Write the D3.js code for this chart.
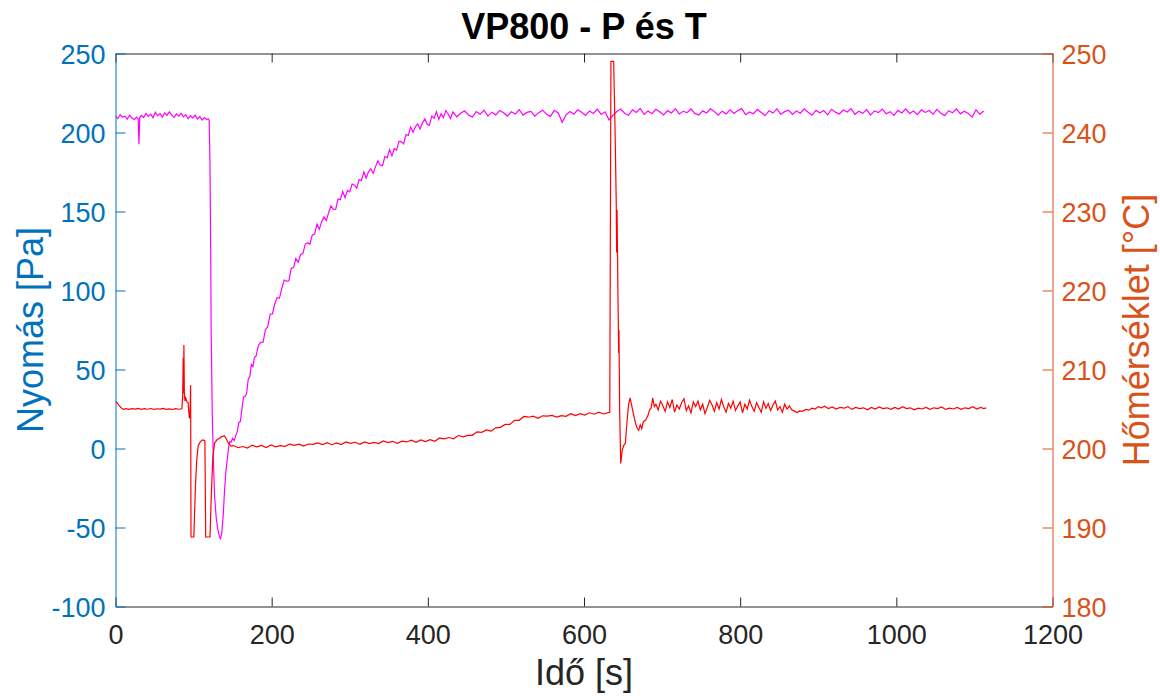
<!DOCTYPE html>
<html>
<head>
<meta charset="utf-8">
<script src="https://cdn.jsdelivr.net/npm/d3@7"></script>
<style>
  body { margin: 0; background: #fff; }
  svg { font-family: "Liberation Sans", Arial, sans-serif; }
</style>
</head>
<body>
<div id="chart"></div>
<script>
// Axis ticks
var xTicks = [0, 200, 400, 600, 800, 1000, 1200];
var pTicks = [-100, -50, 0, 50, 100, 150, 200, 250];
var tTicks = [180, 190, 200, 210, 220, 230, 240, 250];

// Pressure [s, Pa]
var pressureData = [
  [0,210.5],[3,208.8],[6,211.2],[9,209.6],[12,210.3],[15,208.4],[18,210.9],[21,209.1],[24,208.2],[27,209.7],
  [29,208.6],[30,192.5],[31,209.3],[33,210.8],[36,209.5],[39,212.1],[42,210.2],[45,211.6],[48,209.4],[51,212.8],
  [54,210.7],[57,211.9],[60,209.8],[63,212.4],[66,210.9],[69,213.1],[72,211.0],[75,209.6],[78,211.8],[81,210.4],
  [84,212.2],[87,209.9],[90,211.3],[93,208.7],[96,210.6],[99,209.2],[102,211.0],[105,208.5],[108,210.1],[111,207.9],
  [114,209.4],[117,208.2],[119,208.6],
  [120,207.5],[121,180],[122,120],[122.5,75],[124,20],[125.5,-10],[127,-31],[129,-44],[131,-51],[133,-55.5],
  [134.5,-57],[136,-54],[138,-42],[139.6,-27],[141.5,-14],[143.4,-5.7],[145,1],[146.5,4.5],[148,4],[150,6.5],
  [152,5],[154,8],[156,11],
  [158,16.5],[160,17.2],[162,25.4],[164,32.6],[166,32.9],[168,35],[170,43.9],[172,45.5],[174,53.2],[176,51.8],
  [178,57.8],[180,58.4],[183,65.4],[186,67.2],[189,67.3],[192,75.2],[195,77.1],[198,85],[201,85.2],[204,91.6],
  [207,95.5],[210,95.2],[213,101.4],[216,106.6],[219,105.9],[222,106],[225,113.9],[228,114.5],[231,120.2],[234,117.8],
  [237,122.8],[240,123.4],[243,129.4],[246,130.2],[249,129.3],[252,135.2],[255,135.6],[258,142],[261,138.7],[264,143.6],
  [267,146.5],[270,144.2],[273,149.4],[276,153.6],[279,151.4],[282,151.5],[285,157.9],[288,157.5],[291,162.7],[294,158.8],
  [297,163.3],[300,162.4],[303,167.4],[306,166.7],[309,164.8],[312,170.2],[315,169.6],[318,175],[321,171.2],[324,175.1],
  [327,177],[330,174.2],[333,178.4],[336,182.1],[339,179.4],[342,179],[345,184.9],[348,184],[351,189.2],[354,185.3],
  [357,189.8],[360,188.9],[363,194.4],[366,194.2],[369,192.8],[372,198.7],[375,198.1],[378,203.5],[381,200.2],[384,203.6],
  [387,205.5],[390,202.2],[393,205.9],[396,208.6],[399,205.4],[402,204.5],[405,210.4],[408,209],[411,213.2],[414,208.3],
  [417,211.8],[420,209.4],[423,213.9],[426,211.7],[429,208.8],
  [432,212.95],[437,209.94],[442,212.18],[447,213.72],[452,211.13],[457,209.8],[462,213.23],[467,211.55],[472,214.14],[477,210.36],
  [482,212.86],[487,211.18],[492,213.98],[497,212.44],[502,210.41],[507,213.14],[512,211.67],[517,214.4],[522,211.04],[527,212.72],
  [532,213.35],[537,210.34],[542,212.58],[547,214.12],[552,211.53],[557,210.2],[562,214.03],[567,212.35],[572,206.5],[577,211.16],
  [582,213.26],[587,211.58],[592,214.38],[597,212.84],[602,210.81],[607,213.54],[612,212.07],[617,214.8],[622,211.44],[627,213.12],
  [632,208.0],[637,210.74],[642,213.28],[647,214.82],[652,212.23],[657,210.9],[662,214.33],[667,212.65],[672,215.24],[677,211.46],
  [682,213.56],[687,211.88],[692,214.68],[697,213.14],[702,211.11],[707,213.84],[712,212.37],[717,215.1],[722,211.74],[727,213.42],
  [732,212.6],[737,214.9],[742,212.1],[747,211.0],[752,213.7],[757,212.4],[762,215.0],[767,213.2],[772,210.9],[777,213.5],
  [782,211.8],[787,214.4],[792,212.0],[797,213.9],[802,215.1],[807,211.3],[812,213.0],[817,211.9],[822,214.6],[827,212.7],
  [832,210.6],[837,213.8],[842,212.3],[847,214.9],[852,211.6],[857,213.2],[862,214.1],[867,211.4],[872,213.6],[877,212.2],
  [882,215.0],[887,212.8],[892,210.9],[897,214.0],[902,212.5],[907,213.9],[912,211.2],[917,214.7],[922,212.9],[927,211.7],
  [932,214.2],[937,213.0],[942,215.1],[947,211.5],[952,213.4],[957,212.1],[962,214.5],[967,211.0],[972,213.7],[977,212.6],
  [982,214.8],[987,211.9],[992,213.2],[997,210.8],[1002,214.0],[1007,212.4],[1012,215.0],[1017,212.0],[1022,213.6],[1027,211.3],
  [1032,214.3],[1037,212.7],[1042,213.9],[1047,211.6],[1052,214.6],[1057,212.2],[1062,210.7],[1067,213.8],[1072,212.5],[1077,215.0],
  [1082,211.8],[1087,213.5],[1092,212.1],[1097,209.8],[1102,214.4],[1107,211.6],[1112,213.6]
];

// Temperature [s, °C]
var tempData = [
  [0,206.0],[2,205.8],[4,205.5],[6,205.3],[8,205.1],[10,204.95],[13,205.05],[17,204.95],[21,205.05],[25,204.98],
  [29,205.08],[33,204.96],[37,205.04],[41,204.97],[45,205.06],[49,204.95],[53,205.03],[57,204.98],[61,205.07],[65,204.96],
  [69,205.02],[73,204.94],[77,205.05],[81,204.97],[85,205.03],
  [86,206.5],[86.7,211.5],[87.2,207],[87.6,213.1],[88.2,206.8],[89,206.0],[90,206.4],[91.5,205.9],[93,205.8],[94.6,203.8],
  [95.6,205],[96.2,208.0],[96.7,188.8],[100.3,188.8],[101.5,192.5],[102.5,195.5],[104,198.5],[106,200.4],[109,200.9],[111.5,201.1],
  [114.5,201.0],[115.5,188.8],[121,188.8],[122.5,193.5],[124.6,198.9],[127,200.7],[130,201.1],[133,201.3],[136,201.5],[139.6,201.6],
  [142,201.2],[145,200.6],[148,200.3],
  [151,200.37],[157,200.10],[163,200.25],[169,200.05],[175,200.43],[181,200.21],[187,200.39],[193,200.13],[199,200.44],[205,200.22],
  [211,200.37],[217,200.27],[223,200.56],[229,200.39],[235,200.56],[241,200.31],[247,200.57],[253,200.53],[259,200.70],[265,200.49],
  [271,200.74],[277,200.48],[283,200.70],[289,200.50],[295,200.83],[301,200.64],[307,200.79],[313,200.53],[319,200.84],[325,200.62],
  [331,200.77],[337,200.62],[343,200.96],[349,200.74],[355,200.91],[361,200.66],[367,200.92],[373,200.83],[379,201.05],[385,200.79],
  [391,201.09],[397,200.88],[403,201.12],[409,200.91],[415,201.33],[421,201.21],[427,201.39],[433,201.23],[439,201.64],[445,201.47],
  [451,201.67],[457,201.67],[463,202.11],[469,202.04],[475,202.36],[481,202.21],[487,202.62],[493,202.68],[499,203.05],[505,203.04],
  [511,203.57],[517,203.57],[523,204.06],[529,203.96],[535,204.09],[541,203.83],[547,204.14],[553,204.10],[559,204.20],[565,203.98],
  [571,204.17],[577,204.07],[583,204.41],[589,204.17],[595,204.41],[601,204.24],[607,204.52],[613,204.34],[619,204.60],[625,204.37],
  [631,204.55],
  [633,204.6],[634.5,249.0],[638,249.0],[640,239.1],[641.3,231],[641.8,224.8],[642.3,230.2],[642.8,226],[643.5,219],[644,215.4],
  [644.4,212.1],[644.8,215.0],[645.6,205.2],[647,198.1],[649,199.8],[651,200.4],[653,200.7],[655,203.3],[657,205.5],[659,206.4],
  [661,205.5],[663,204.5],[666,203.2],[668,202.6],[670,202.3],[672,203.0],[674,202.5],[676,203.4],[679,203.6],[682,204.2],
  [684,204.9],[686,205.1],[688,206.4],[690,205.3],
  [692,205.6],[695,204.9],[698,206.0],[701,205.4],[704,204.7],[707,205.9],[710,205.2],[713,206.2],[716,204.6],[719,205.5],
  [722,205.0],[725,205.8],[728,206.3],[731,204.8],[734,205.4],[737,204.5],[740,205.9],[743,205.3],[746,206.0],[749,204.9],
  [752,205.6],[755,204.4],[758,205.2],[761,206.1],[764,205.5],[767,204.7],[770,205.8],[773,205.0],[776,206.2],[779,205.3],
  [782,204.6],[785,205.7],[788,205.1],[791,206.0],[794,204.8],[797,205.4],[800,205.9],[803,204.5],[806,205.6],[809,205.0],
  [812,206.1],[815,205.3],[818,204.7],[821,205.8],[824,205.2],[827,204.6],[830,205.9],[833,205.1],[836,205.7],[839,204.8],
  [842,205.5],[845,206.0],[848,204.9],[851,205.3],[854,204.6],[857,205.6],[860,205.0],[863,205.4],[866,204.9],
  [870,204.7],[873,204.55],[876,204.75],[880,204.7],[884,204.95],[888,204.85],[892,205.1],[896,205.0],[900,205.3],[904,205.15],
  [908,205.35],[913,205.05],[918,205.25],[923,205.0],[928,205.2],[933,205.1],[938,205.3],[943,204.95],[948,205.2],[953,205.05],
  [958,205.15],[963,204.9],[968,205.2],[973,205.0],[978,205.25],[983,205.05],[988,205.15],[993,204.95],[998,205.2],[1003,205.0],
  [1008,205.3],[1013,205.05],[1018,205.15],[1023,204.9],[1028,205.1],[1033,205.0],[1038,205.2],[1043,204.95],[1048,205.15],[1053,205.05],
  [1058,205.25],[1063,204.95],[1068,205.1],[1073,205.0],[1078,205.2],[1083,204.95],[1088,205.15],[1093,205.05],[1098,205.3],[1103,205.0],
  [1108,205.2],[1112,205.05],[1115,205.15]
];

var width = 1160,
    height = 696,
    plotLeft = 115.5, plotRight = 1052.5, plotTop = 53.5, plotBottom = 606.5;

var blue = "#0072BD", orange = "#D95319", dark = "#262626";

// plain hyphen for negatives, like the original
var plainNum = function(d) { return String(d); };

var svg = d3.select("#chart").append("svg")
  .attr("width", width)
  .attr("height", height);

var xScale = d3.scaleLinear().domain([0, 1200]).range([plotLeft, plotRight]);
var yLeft = d3.scaleLinear().domain([-100, 250]).range([plotBottom, plotTop]);
var yRight = d3.scaleLinear().domain([180, 250]).range([plotBottom, plotTop]);

svg.append("clipPath").attr("id", "plot-clip")
  .append("rect")
  .attr("x", plotLeft).attr("y", plotTop - 1)
  .attr("width", plotRight - plotLeft).attr("height", plotBottom - plotTop + 2);

// data lines
var pLine = d3.line()
  .x(function(d) { return xScale(d[0]); })
  .y(function(d) { return yLeft(d[1]); });

var tLine = d3.line()
  .x(function(d) { return xScale(d[0]); })
  .y(function(d) { return yRight(d[1]); });

svg.append("path")
  .attr("clip-path", "url(#plot-clip)")
  .attr("d", pLine(pressureData))
  .attr("fill", "none")
  .attr("stroke", "#FF00FF")
  .attr("stroke-width", 1.2);

svg.append("path")
  .attr("clip-path", "url(#plot-clip)")
  .attr("d", tLine(tempData))
  .attr("fill", "none")
  .attr("stroke", "#FF0000")
  .attr("stroke-width", 1.2);

// x axis bottom
var xAxis = svg.append("g")
  .attr("transform", "translate(0," + plotBottom + ")")
  .call(d3.axisBottom(xScale).tickValues(xTicks).tickFormat(plainNum)
    .tickSize(-9).tickSizeOuter(0).tickPadding(18));
xAxis.selectAll("path, line").attr("stroke", dark);
xAxis.selectAll("text").attr("fill", dark).style("font-size", "27px");

// x axis top (ticks only)
var xTop = svg.append("g")
  .attr("transform", "translate(0," + plotTop + ")")
  .call(d3.axisTop(xScale).tickValues(xTicks).tickSize(-9).tickSizeOuter(0).tickFormat(""));
xTop.selectAll("path, line").attr("stroke", dark);

// left axis
var yAxisL = svg.append("g")
  .attr("transform", "translate(" + plotLeft + ",0)")
  .call(d3.axisLeft(yLeft).tickValues(pTicks).tickFormat(plainNum)
    .tickSize(-10).tickSizeOuter(0).tickPadding(10));
yAxisL.selectAll("path, line").attr("stroke", blue);
yAxisL.selectAll("text").attr("fill", blue).style("font-size", "27px").attr("dy", "0.36em");

// right axis
var yAxisR = svg.append("g")
  .attr("transform", "translate(" + plotRight + ",0)")
  .call(d3.axisRight(yRight).tickValues(tTicks).tickFormat(plainNum)
    .tickSize(-10).tickSizeOuter(0).tickPadding(9));
yAxisR.selectAll("path, line").attr("stroke", orange);
yAxisR.selectAll("text").attr("fill", orange).style("font-size", "27px").attr("dy", "0.36em");

// title & labels
svg.append("text")
  .attr("x", (plotLeft + plotRight) / 2)
  .attr("y", 39)
  .attr("text-anchor", "middle")
  .style("font-size", "36px")
  .style("font-weight", "bold")
  .attr("fill", "#000")
  .text("VP800 - P és T");

svg.append("text")
  .attr("x", (plotLeft + plotRight) / 2)
  .attr("y", 685)
  .attr("text-anchor", "middle")
  .style("font-size", "36px")
  .attr("fill", dark)
  .text("Idő [s]");

svg.append("text")
  .attr("transform", "translate(43," + ((plotTop + plotBottom) / 2) + ") rotate(-90)")
  .attr("text-anchor", "middle")
  .style("font-size", "36px")
  .attr("fill", blue)
  .text("Nyomás [Pa]");

svg.append("text")
  .attr("transform", "translate(1149," + ((plotTop + plotBottom) / 2) + ") rotate(-90)")
  .attr("text-anchor", "middle")
  .style("font-size", "36px")
  .attr("fill", orange)
  .text("Hőmérséklet [°C]");
</script>
</body>
</html>
